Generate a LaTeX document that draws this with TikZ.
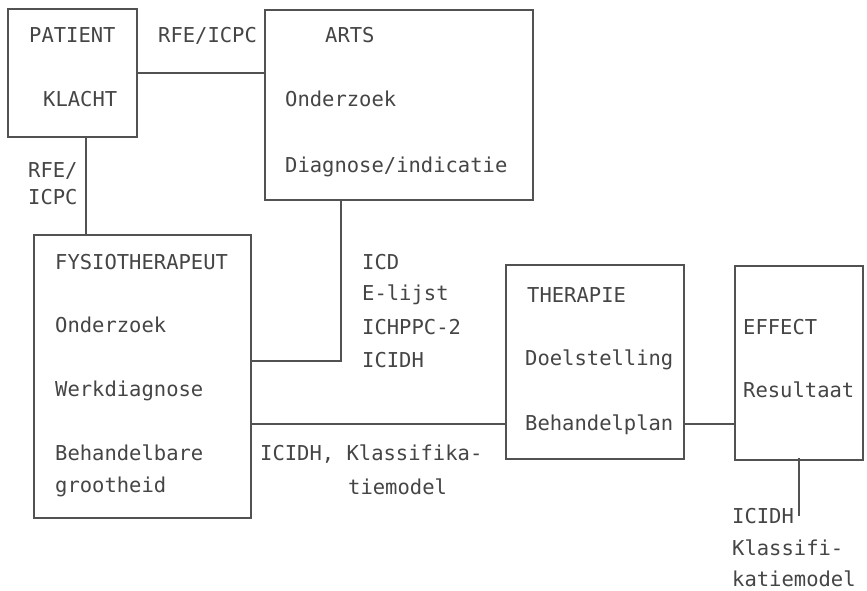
\documentclass[tikz,border=0pt]{standalone}
\usepackage{fontspec}
\setmonofont{DejaVu Sans Mono}
\definecolor{ink}{HTML}{454545}
\definecolor{lineink}{HTML}{525252}
\begin{document}
\begin{tikzpicture}[x=1pt,y=-1pt,
  box/.style={draw=lineink, line width=1.6pt, rectangle, inner sep=0pt},
  lbl/.style={anchor=base west, inner sep=0pt, text=ink, font=\ttfamily\fontsize{20.5}{24}\selectfont},
  conn/.style={draw=lineink, line width=1.6pt}]
\useasboundingbox (0,0) rectangle (867,590);
\fill[white] (0,0) rectangle (867,590);
% boxes
\node[box, minimum width=129pt, minimum height=128pt] (patient) at (72.5,73) {};
\node[box, minimum width=268pt, minimum height=190pt] (arts) at (399,105) {};
\node[box, minimum width=217pt, minimum height=283pt] (fysio) at (142.5,376.5) {};
\node[box, minimum width=178pt, minimum height=194pt] (therapie) at (595,362) {};
\node[box, minimum width=128pt, minimum height=194pt] (effect) at (799,363) {};
% texts
\node[lbl] (t1) at (29,42) {PATIENT};
\node[lbl] (t2) at (43,106) {KLACHT};
\node[lbl] (t3) at (158,42) {RFE/ICPC};
\node[lbl] (t4) at (325,42) {ARTS};
\node[lbl] (t5) at (285,106) {Onderzoek};
\node[lbl] (t6) at (285,172) {Diagnose/indicatie};
\node[lbl] (t7) at (28,177) {RFE/};
\node[lbl] (t8) at (28,204) {ICPC};
\node[lbl] (t9) at (55,269) {FYSIOTHERAPEUT};
\node[lbl] (t10) at (55,332) {Onderzoek};
\node[lbl] (t11) at (55,396) {Werkdiagnose};
\node[lbl] (t12) at (55,460) {Behandelbare};
\node[lbl] (t13) at (55,492) {grootheid};
\node[lbl] (t14) at (362,269) {ICD};
\node[lbl] (t15) at (362,300) {E-lijst};
\node[lbl] (t16) at (362,334) {ICHPPC-2};
\node[lbl] (t17) at (362,367) {ICIDH};
\node[lbl] (t18) at (260,460) {ICIDH, Klassifika-};
\node[lbl] (t19) at (348,494) {tiemodel};
\node[lbl] (t20) at (527,302) {THERAPIE};
\node[lbl] (t21) at (525,365) {Doelstelling};
\node[lbl] (t22) at (525,430) {Behandelplan};
\node[lbl] (t23) at (743,334) {EFFECT};
\node[lbl] (t24) at (743,397) {Resultaat};
\node[lbl] (t25) at (732,523) {ICIDH};
\node[lbl] (t26) at (732,555) {Klassifi-};
\node[lbl] (t27) at (732,586) {katiemodel};
% helper coordinates
\coordinate (yA) at (0,361);
\coordinate (yB) at (0,424);
\coordinate (xA) at (341,0);
\coordinate (xB) at (86,0);
\coordinate (eend) at (799,516);
% connectors
\draw[conn] (patient.east) -- (patient.east -| arts.west);
\draw[conn] (patient.south -| xB) -- (fysio.north -| xB);
\draw[conn] (arts.south -| xA) |- (fysio.east |- yA);
\draw[conn] (fysio.east |- yB) -- (therapie.west |- yB);
\draw[conn] (therapie.east |- yB) -- (effect.west |- yB);
\draw[conn] ([yshift=3pt]effect.south) -- (eend);
\end{tikzpicture}
\end{document}
